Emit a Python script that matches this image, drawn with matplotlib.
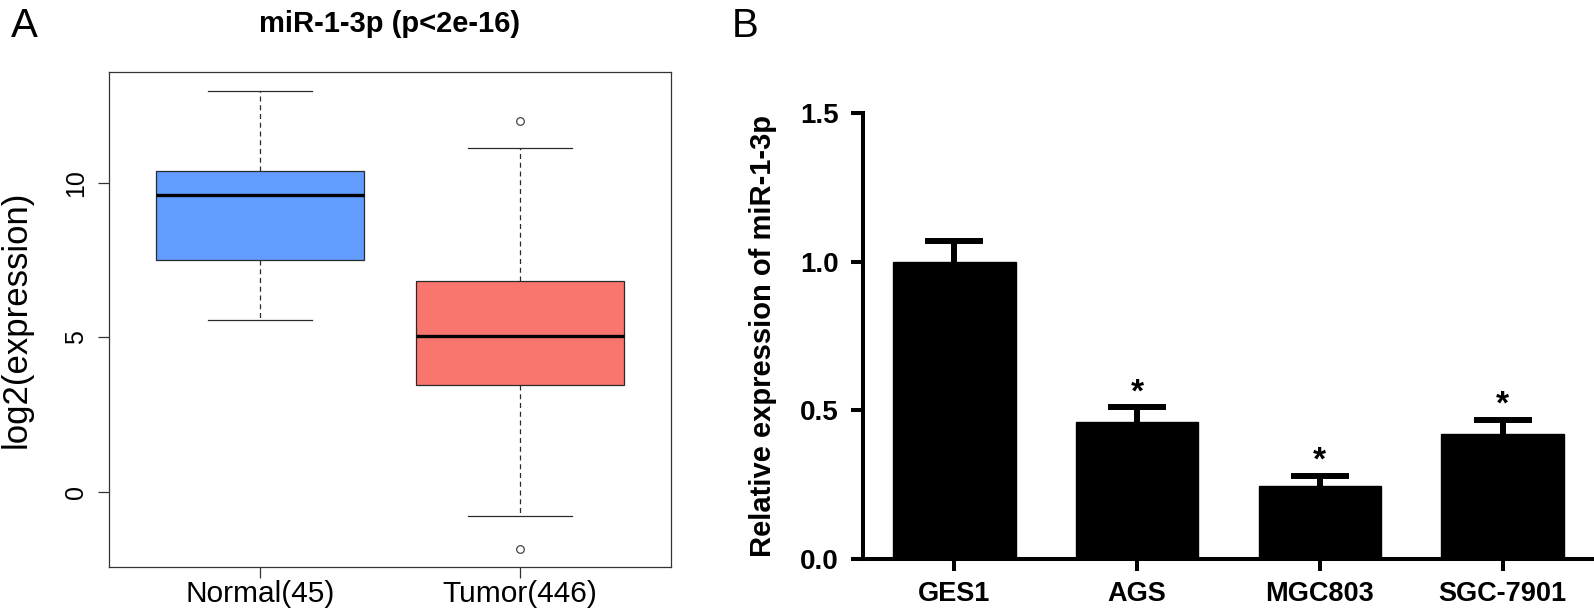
import matplotlib
matplotlib.use("Agg")
import matplotlib.pyplot as plt
from matplotlib import font_manager
import numpy as np

# ---------------- data ----------------
# Panel A (boxplot summary statistics)
groups = ["Normal(45)", "Tumor(446)"]
box_colors = ["#619CFF", "#F8766D"]
whislo = [5.56, -0.79]
q1 = [7.51, 3.46]
med = [9.59, 5.05]
q3 = [10.38, 6.82]
whishi = [12.98, 11.12]
fliers = [[], [12.00, -1.84]]
title_a = "miR-1-3p (p<2e-16)"
ylabel_a = "log2(expression)"
yticks_a = [0, 5, 10]

# Panel B (bar chart)
cells = ["GES1", "AGS", "MGC803", "SGC-7901"]
means = [1.00, 0.460, 0.247, 0.420]
errs = [0.070, 0.050, 0.033, 0.048]
sig = ["", "*", "*", "*"]
ylabel_b = "Relative expression of miR-1-3p"
yticks_b = [0.0, 0.5, 1.0, 1.5]

# ---------------- fonts ----------------
avail = {f.name for f in font_manager.fontManager.ttflist}
FONT = "Liberation Sans" if "Liberation Sans" in avail else "DejaVu Sans"
plt.rcParams["font.family"] = [FONT, "DejaVu Sans"]

W, H = 1594, 614
fig = plt.figure(figsize=(W / 100, H / 100), dpi=100)


def fx(px):
    return px / W


def fy(py):
    return 1 - py / H


# ---------------- Panel A ----------------
axA = fig.add_axes([fx(109), fy(567.3), fx(670.7 - 109), (567.3 - 72.3) / H])
stats = []
for i in range(len(groups)):
    stats.append(dict(med=med[i], q1=q1[i], q3=q3[i], whislo=whislo[i],
                      whishi=whishi[i], fliers=fliers[i], label=groups[i]))
edge = "#2a2a2a"
bp = axA.bxp(stats, positions=np.arange(1, len(groups) + 1), widths=0.8,
             patch_artist=True, showfliers=True,
             boxprops=dict(linewidth=0.9, edgecolor=edge),
             medianprops=dict(color="black", linewidth=2.4, solid_capstyle="butt"),
             whiskerprops=dict(color=edge, linewidth=0.9, linestyle=(0, (4, 3))),
             capprops=dict(color=edge, linewidth=0.9),
             capwidths=0.4,
             flierprops=dict(marker="o", markersize=5.5, markerfacecolor="none",
                             markeredgecolor="#444444", markeredgewidth=0.9))
for patch, c in zip(bp["boxes"], box_colors):
    patch.set_facecolor(c)

allv = np.array(whislo + whishi + [v for f in fliers for v in f])
lo, hi = allv.min(), allv.max()
pad = 0.04 * (hi - lo)
axA.set_ylim(lo - pad, hi + pad)
n = len(groups)
axA.set_xlim(0.5 - 0.04 * n, n + 0.5 + 0.04 * n)
axA.set_yticks(yticks_a)
axA.set_yticklabels([str(v) for v in yticks_a], rotation=90, va="center",
                    fontsize=18)
axA.set_xticks(np.arange(1, n + 1))
axA.set_xticklabels(groups, fontsize=21.5)
for s in axA.spines.values():
    s.set_linewidth(0.9)
    s.set_color("#333333")
axA.tick_params(axis="both", length=8, width=0.9, color="#333333")
axA.tick_params(axis="y", pad=7)
axA.tick_params(axis="x", pad=1.5)
axA.set_ylabel(ylabel_a, fontsize=25)
axA.yaxis.set_label_coords((33 - 109) / (670.7 - 109), 0.5)
fig.text(fx(390), fy(32), title_a, ha="center", va="baseline",
         fontsize=21, fontweight="bold")
fig.text(fx(24), fy(37), "A", ha="center", va="baseline", fontsize=29)

# ---------------- Panel B ----------------
axB = fig.add_axes([fx(863), fy(559.3), fx(W - 863), (559.3 - 112.7) / H])
x = np.arange(len(cells))
axB.bar(x, means, width=0.67, color="black", edgecolor="black", zorder=2)
eb = axB.errorbar(x, means, yerr=[np.zeros(len(errs)), errs], fmt="none",
                  ecolor="black", elinewidth=4.3, capsize=21, capthick=4.3,
                  zorder=1)
caps = eb[1]
if len(caps) == 2:
    caps[0].set_visible(False)  # hide lower caps (one-sided error bars)
for xi, m, e, s in zip(x, means, errs, sig):
    if s:
        axB.annotate(s, xy=(xi, m + e), xytext=(0, 4.5), textcoords="offset points",
                     ha="center", va="baseline", fontsize=24, fontweight="bold")
axB.set_xlim(-0.5, len(cells) - 0.5)
axB.set_ylim(0, 1.5)
axB.set_yticks(yticks_b)
axB.set_yticklabels([f"{v:.1f}" for v in yticks_b], fontsize=20, fontweight="bold")
axB.set_xticks(x)
axB.set_xticklabels(cells, fontsize=19.5, fontweight="bold")
for side in ["top", "right"]:
    axB.spines[side].set_visible(False)
for side in ["left", "bottom"]:
    axB.spines[side].set_linewidth(2.9)
    axB.spines[side].set_capstyle("projecting")
axB.tick_params(axis="both", length=8.6, width=2.9)
axB.tick_params(axis="y", pad=8.6)
axB.tick_params(axis="x", pad=7)
axB.set_ylabel(ylabel_b, fontsize=21, fontweight="bold")
axB.yaxis.set_label_coords((777 - 863) / (W - 863), 0.5)
fig.text(fx(745), fy(37), "B", ha="center", va="baseline", fontsize=29)

fig.savefig("out.png", dpi=100)
